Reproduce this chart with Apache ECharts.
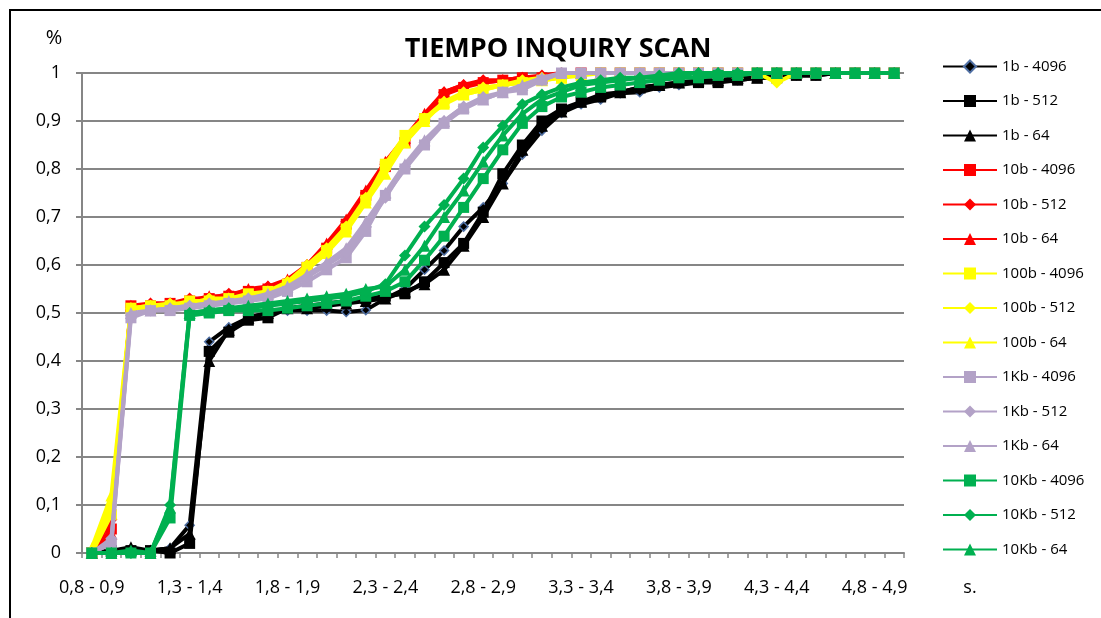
<!DOCTYPE html>
<html>
<head>
<meta charset="utf-8">
<script src="https://cdn.jsdelivr.net/npm/echarts@6/dist/echarts.min.js"></script>
<style>html,body{margin:0;padding:0;background:#fff}#c{width:1101px;height:618px}</style>
</head>
<body>
<div id="c"></div>
<script>
const categories = ["0,8 - 0,9","0,9 - 1,0","1,0 - 1,1","1,1 - 1,2","1,2 - 1,3","1,3 - 1,4","1,4 - 1,5","1,5 - 1,6","1,6 - 1,7","1,7 - 1,8","1,8 - 1,9","1,9 - 2,0","2,0 - 2,1","2,1 - 2,2","2,2 - 2,3","2,3 - 2,4","2,4 - 2,5","2,5 - 2,6","2,6 - 2,7","2,7 - 2,8","2,8 - 2,9","2,9 - 3,0","3,0 - 3,1","3,1 - 3,2","3,2 - 3,3","3,3 - 3,4","3,4 - 3,5","3,5 - 3,6","3,6 - 3,7","3,7 - 3,8","3,8 - 3,9","3,9 - 4,0","4,0 - 4,1","4,1 - 4,2","4,2 - 4,3","4,3 - 4,4","4,4 - 4,5","4,5 - 4,6","4,6 - 4,7","4,7 - 4,8","4,8 - 4,9","4,9 - 5,0"];

const yTicks = [0, 0.1, 0.2, 0.3, 0.4, 0.5, 0.6, 0.7, 0.8, 0.9, 1];

const s1b_4096 = [0,0,0.005,0.005,0.01,0.058,0.44,0.47,0.49,0.5,0.505,0.505,0.505,0.502,0.506,0.53,0.55,0.59,0.63,0.68,0.72,0.77,0.83,0.88,0.917,0.935,0.945,0.958,0.96,0.97,0.975,0.98,0.985,0.985,0.99,0.99,0.995,0.995,1,1,1,1];
const s1b_512 = [0,0.005,0.005,0.005,0,0.02,0.42,0.46,0.485,0.49,0.51,0.515,0.52,0.525,0.53,0.535,0.54,0.565,0.605,0.645,0.71,0.79,0.85,0.9,0.925,0.94,0.95,0.96,0.97,0.975,0.98,0.98,0.98,0.985,0.99,0.99,0.995,0.995,1,1,1,1];
const s1b_64 = [0,0.005,0.012,0.005,0.01,0.04,0.40,0.465,0.49,0.5,0.51,0.51,0.515,0.52,0.525,0.53,0.545,0.56,0.59,0.64,0.7,0.77,0.84,0.89,0.92,0.94,0.955,0.96,0.97,0.975,0.98,0.985,0.985,0.99,0.99,0.995,1,1,1,1,1,1];

const s10b_4096 = [0,0.05,0.515,0.515,0.52,0.525,0.53,0.535,0.545,0.55,0.56,0.595,0.635,0.685,0.745,0.805,0.855,0.905,0.955,0.97,0.98,0.985,0.99,0.99,0.995,1,1,1,1,1,1,1,1,1,1,1,1,1,1,1,1,1];
const s10b_512 = [0,0.07,0.51,0.52,0.52,0.53,0.53,0.54,0.545,0.555,0.565,0.6,0.64,0.69,0.75,0.81,0.86,0.91,0.96,0.975,0.985,0.985,0.99,0.995,1,1,1,1,1,1,1,1,1,1,1,1,1,1,1,1,1,1];
const s10b_64 = [0,0.04,0.515,0.52,0.52,0.525,0.535,0.535,0.55,0.555,0.57,0.6,0.645,0.695,0.755,0.815,0.865,0.915,0.96,0.975,0.98,0.985,0.99,0.99,1,1,1,1,1,1,1,1,1,1,1,1,1,1,1,1,1,1];

const s100b_4096 = [0,0.08,0.51,0.515,0.515,0.525,0.525,0.53,0.54,0.545,0.56,0.595,0.63,0.675,0.735,0.81,0.87,0.905,0.935,0.955,0.965,0.975,0.98,0.985,0.99,0.995,1,1,1,1,1,1,1,1,1,1,1,1,1,1,1,1];
const s100b_512 = [0,0.1,0.51,0.515,0.52,0.52,0.53,0.53,0.535,0.545,0.565,0.6,0.635,0.68,0.74,0.8,0.86,0.905,0.94,0.96,0.97,0.975,0.985,0.99,0.995,1,1,1,1,1,1,1,1,1,1,0.98,1,1,1,1,1,1];
const s100b_64 = [0.01,0.12,0.51,0.51,0.515,0.52,0.525,0.53,0.535,0.545,0.56,0.59,0.625,0.67,0.73,0.79,0.855,0.9,0.94,0.955,0.965,0.975,0.98,0.985,0.99,1,1,1,1,1,1,1,1,1,1,1,1,1,1,1,1,1];

const s1Kb_4096 = [0,0.02,0.49,0.505,0.505,0.51,0.515,0.52,0.525,0.53,0.545,0.565,0.59,0.615,0.67,0.745,0.8,0.85,0.895,0.925,0.945,0.96,0.965,0.985,1,1,1,1,1,1,1,1,1,1,1,1,1,1,1,1,1,1];
const s1Kb_512 = [0,0.03,0.495,0.505,0.51,0.515,0.52,0.52,0.53,0.535,0.55,0.575,0.6,0.625,0.68,0.74,0.805,0.855,0.9,0.93,0.95,0.96,0.97,0.985,1,1,1,1,1,1,1,1,1,1,1,1,1,1,1,1,1,1];
const s1Kb_64 = [0,0.02,0.5,0.505,0.51,0.515,0.52,0.525,0.53,0.54,0.555,0.58,0.605,0.635,0.69,0.75,0.81,0.86,0.9,0.93,0.945,0.96,0.975,0.99,1,1,1,1,1,1,1,1,1,1,1,1,1,1,1,1,1,1];

const s10Kb_4096 = [0,0,0,0,0.073,0.495,0.5,0.505,0.505,0.505,0.51,0.515,0.52,0.525,0.535,0.545,0.565,0.61,0.66,0.72,0.78,0.84,0.895,0.93,0.95,0.96,0.97,0.975,0.98,0.985,0.99,0.99,0.995,0.995,1,1,1,1,1,1,1,1];
const s10Kb_512 = [0,0,0,0,0.1,0.5,0.505,0.51,0.51,0.515,0.52,0.525,0.53,0.535,0.545,0.56,0.62,0.68,0.725,0.78,0.845,0.89,0.935,0.955,0.97,0.98,0.985,0.99,0.99,0.995,1,1,1,1,1,1,1,1,1,1,1,1];
const s10Kb_64 = [0,0,0.005,0,0.095,0.5,0.505,0.51,0.515,0.52,0.525,0.53,0.535,0.54,0.55,0.555,0.59,0.64,0.7,0.755,0.815,0.87,0.915,0.945,0.96,0.975,0.98,0.985,0.99,0.99,0.995,1,1,1,1,1,1,1,1,1,1,1];

const seriesNames = ["1b - 4096","1b - 512","1b - 64","10b - 4096","10b - 512","10b - 64","100b - 4096","100b - 512","100b - 64","1Kb - 4096","1Kb - 512","1Kb - 64","10Kb - 4096","10Kb - 512","10Kb - 64"];
const seriesData = [s1b_4096,s1b_512,s1b_64,s10b_4096,s10b_512,s10b_64,s100b_4096,s100b_512,s100b_64,s1Kb_4096,s1Kb_512,s1Kb_64,s10Kb_4096,s10Kb_512,s10Kb_64];
const groupColors = ["#000000","#FF0000","#FFFF00","#B3A2C7","#00B050"];
const symbols1b = ["diamond","rect","triangle"];
const symbolsOther = ["rect","diamond","triangle"];
const symbolSizeOf = { rect: 11, diamond: 12, triangle: 12 };

const FONT = "'Open Sans', 'Liberation Sans', sans-serif";

const series = seriesData.map((d, i) => {
  const g = Math.floor(i / 3), k = i % 3;
  const col = groupColors[g];
  const sym = g === 0 ? symbols1b[k] : symbolsOther[k];
  const isBlueDiamond = (i === 0);
  return {
    name: seriesNames[i],
    type: 'line',
    data: d,
    symbol: sym,
    symbolSize: isBlueDiamond ? 9 : symbolSizeOf[sym],
    showAllSymbol: true,
    lineStyle: { color: col, width: 4 },
    itemStyle: isBlueDiamond ? { color: '#000000', borderColor: '#4F6FA3', borderWidth: 1.5 } : { color: col, borderColor: col, borderWidth: 0 },
    emphasis: { disabled: true },
    z: 2 + i
  };
});

const chart = echarts.init(document.getElementById('c'), null, { renderer: 'canvas' });
chart.setOption({
  animation: false,
  backgroundColor: '#ffffff',
  grid: { left: 82, top: 73, right: 197, bottom: 65, containLabel: false, outerBoundsMode: 'none' },
  legend: {
    orient: 'vertical',
    left: 937,
    top: 54,
    itemWidth: 54,
    itemHeight: 15,
    itemGap: 19.5,
    data: seriesNames,
    textStyle: { fontFamily: FONT, fontSize: 15, color: '#000', lineHeight: 15 },
    selectedMode: false
  },
  xAxis: {
    type: 'category',
    data: categories,
    boundaryGap: true,
    axisLine: { lineStyle: { color: '#868686', width: 2 } },
    axisTick: { show: true, interval: 0, length: 5, lineStyle: { color: '#868686', width: 1.5 } },
    axisLabel: { interval: 4, margin: 26, color: '#000', fontFamily: FONT, fontSize: 18 },
    splitLine: { show: false }
  },
  yAxis: {
    type: 'value',
    min: yTicks[0],
    max: yTicks[yTicks.length - 1],
    interval: 0.1,
    axisLine: { show: true, lineStyle: { color: '#868686', width: 2 } },
    axisTick: { show: true, length: 6, lineStyle: { color: '#868686', width: 2 } },
    axisLabel: {
      margin: 21, color: '#000', fontFamily: FONT, fontSize: 18,
      formatter: v => { const r = Math.round(v * 10) / 10; return (r === 0 || r === 1) ? String(r) : r.toFixed(1).replace('.', ','); }
    },
    splitLine: { show: true, lineStyle: { color: '#868686', width: 2 } }
  },
  graphic: [
    { type: 'rect', shape: { x: 10, y: 10, width: 1200, height: 700 }, style: { fill: 'none', stroke: '#000', lineWidth: 2 }, silent: true },
    { type: 'text', x: 558, y: 49, style: { text: 'TIEMPO INQUIRY SCAN', fontFamily: FONT, fontWeight: 'bold', fontSize: 27, fill: '#000', textAlign: 'center', textVerticalAlign: 'middle' } },
    { type: 'text', x: 54, y: 38, style: { text: '%', fontFamily: FONT, fontSize: 20, fill: '#000', textAlign: 'center', textVerticalAlign: 'middle' } },
    { type: 'text', x: 970, y: 588, style: { text: 's.', fontFamily: FONT, fontSize: 18, fill: '#000', textAlign: 'center', textVerticalAlign: 'middle' } }
  ],
  series: series
});
</script>
</body>
</html>
